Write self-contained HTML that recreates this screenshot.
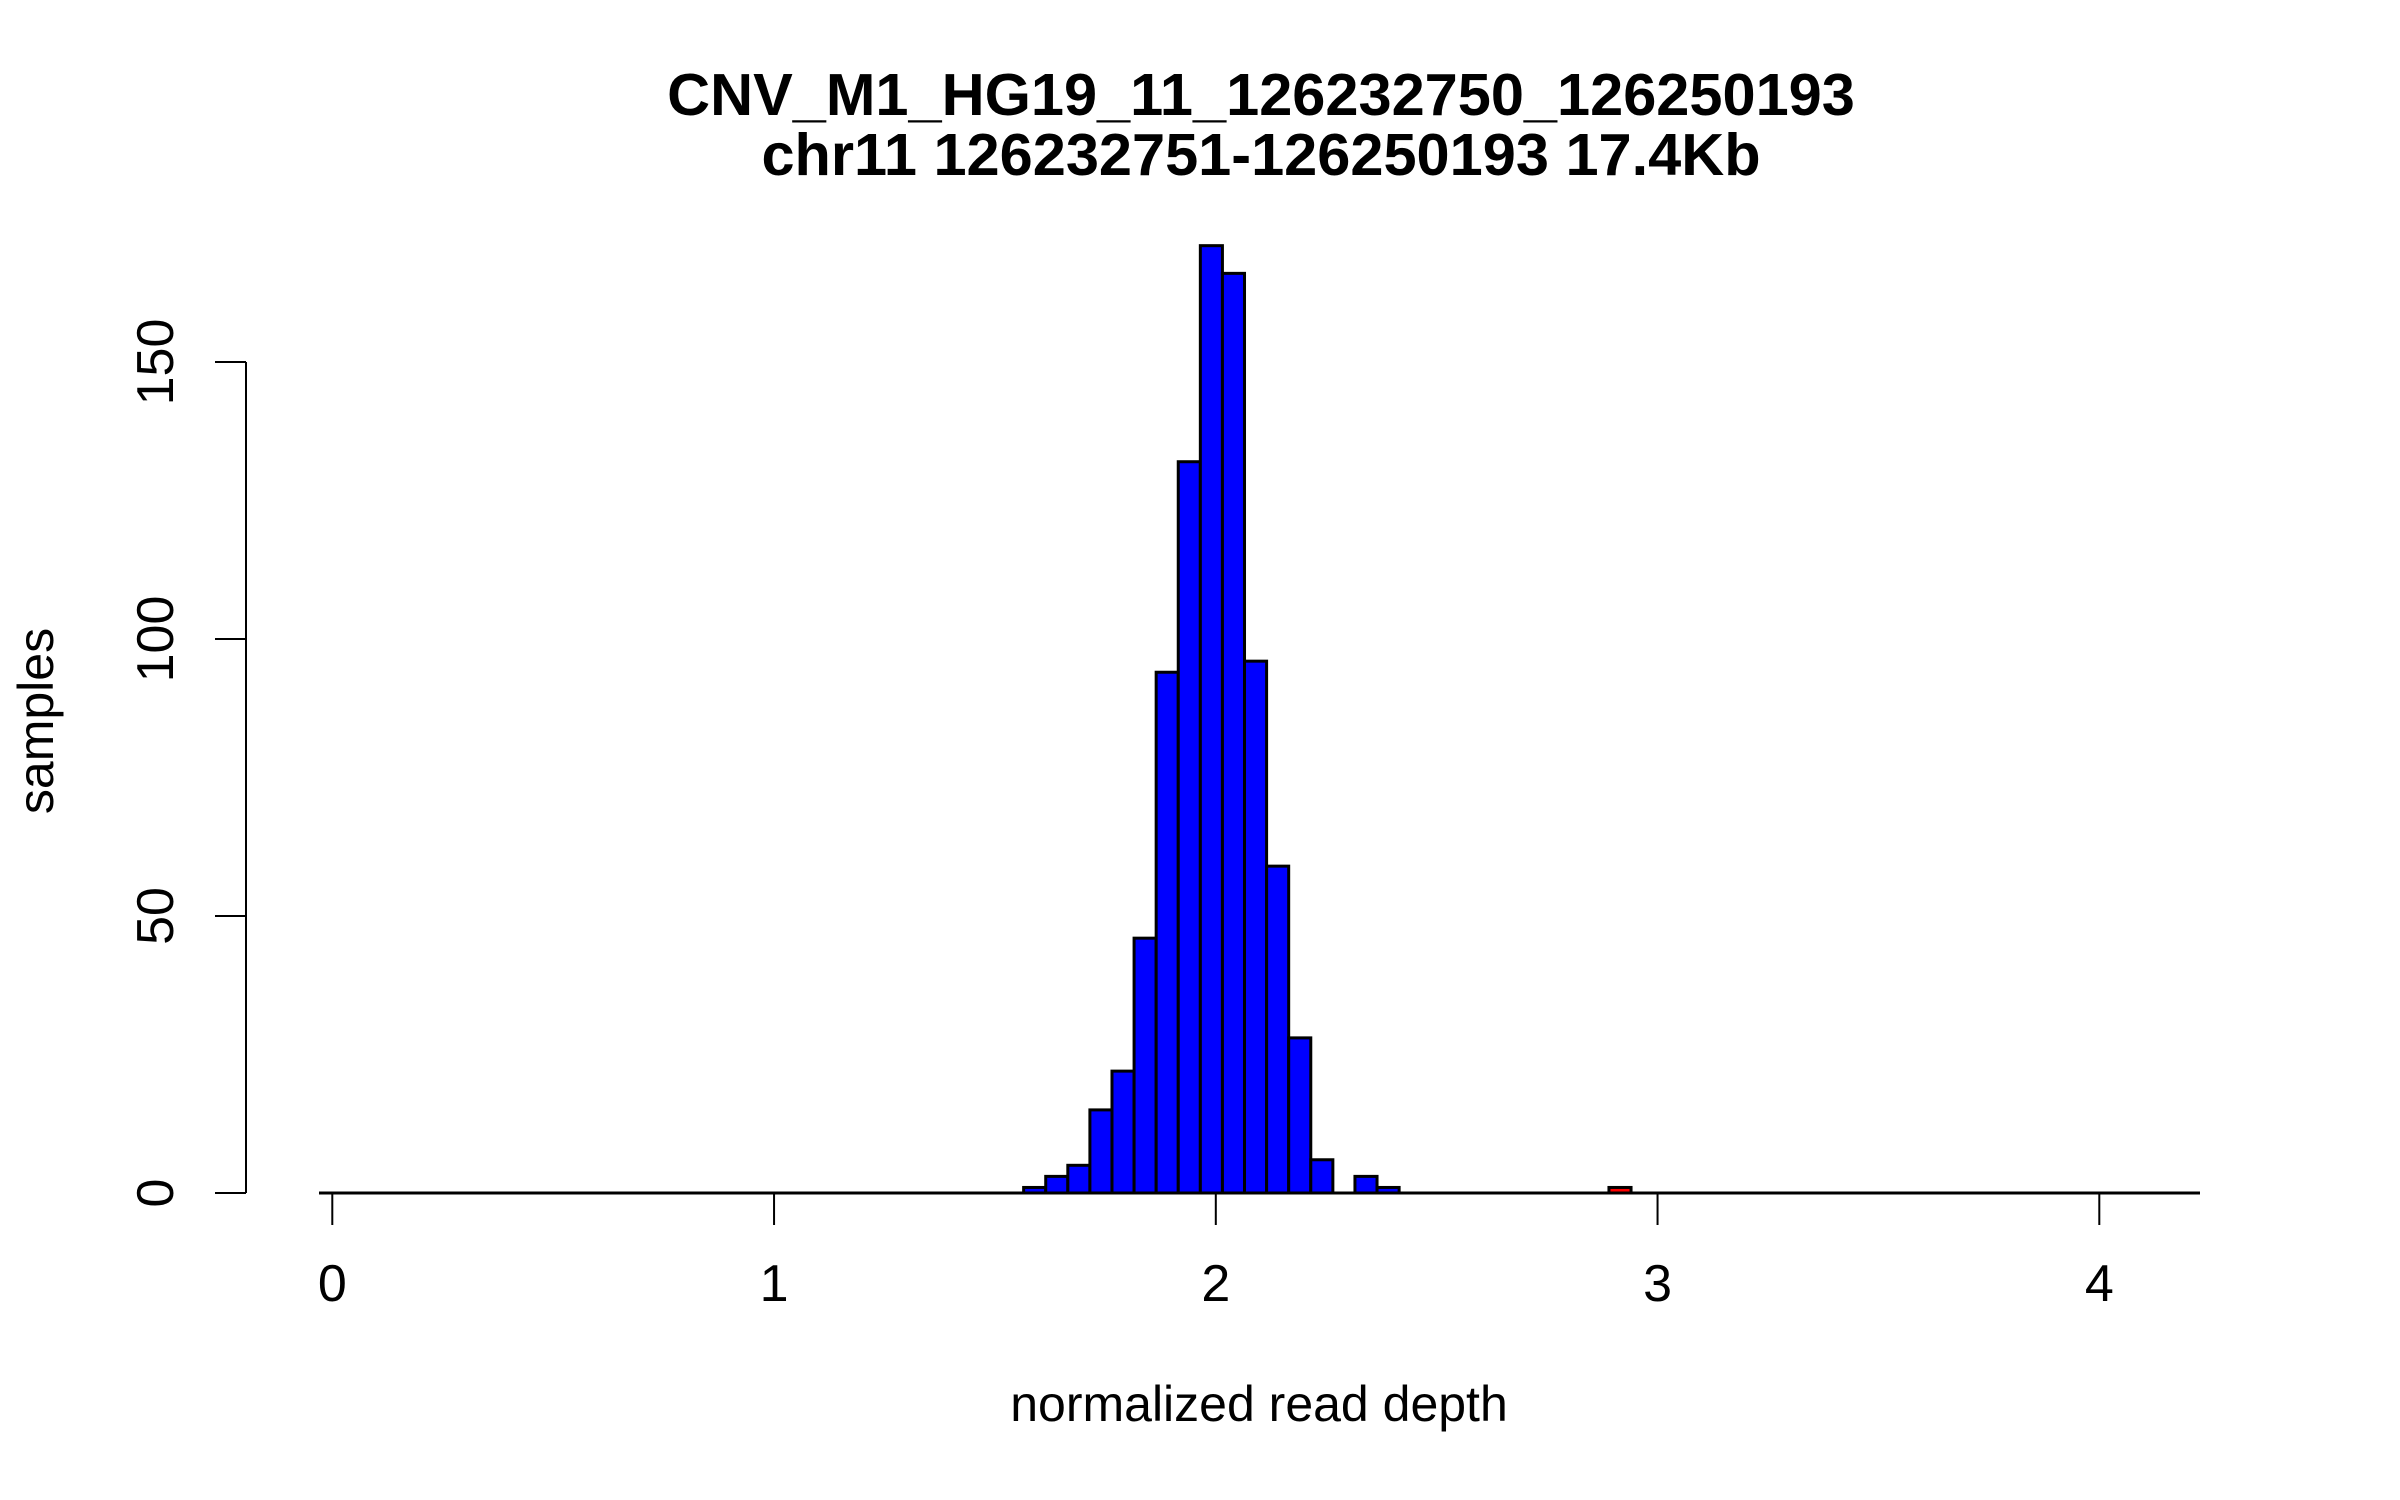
<!DOCTYPE html>
<html><head><meta charset="utf-8"><style>
html,body{margin:0;padding:0;background:#fff;}
svg{display:block;font-family:"Liberation Sans",Arial,sans-serif;}
</style></head><body>
<svg id="chart" width="2400" height="1500" viewBox="0 0 2400 1500" xmlns="http://www.w3.org/2000/svg">
<rect width="2400" height="1500" fill="#fff"/>
<text x="1261" y="115" text-anchor="middle" font-weight="bold" font-size="59.5">CNV_M1_HG19_11_126232750_126250193</text>
<text x="1261" y="175" text-anchor="middle" font-weight="bold" font-size="59.5">chr11 126232751-126250193 17.4Kb</text>
<text x="1259" y="1421" text-anchor="middle" font-size="50">normalized read depth</text>
<text x="0" y="0" transform="translate(53,721) rotate(-90)" text-anchor="middle" font-size="50">samples</text>
<g id="bars"></g>
<g id="axes"></g>
</svg>
<script>
const binStarts = [1.565,1.615,1.665,1.715,1.765,1.815,1.865,1.915,1.965,2.015,2.065,2.115,2.165,2.215,2.265,2.315,2.365,2.89];
const counts = [1,3,5,15,22,46,94,132,171,166,96,59,28,6,0,3,1,1];
const barColors = ['blue','blue','blue','blue','blue','blue','blue','blue','blue','blue','blue','blue','blue','blue','blue','blue','blue','red'];
const binWidth = 0.05;
const xTicks = [0,1,2,3,4];
const yTicks = [0,50,100,150];

const NS = 'http://www.w3.org/2000/svg';
function xs(v){ return 332.3 + v * 441.75; }
function ys(v){ return 1193 - v * (831 / 150); }
function mk(tag, attrs, parent){
  const e = document.createElementNS(NS, tag);
  for (const k in attrs) e.setAttribute(k, attrs[k]);
  parent.appendChild(e);
  return e;
}
const barsG = document.getElementById('bars');
const axesG = document.getElementById('axes');
for (let i = 0; i < counts.length; i++) {
  if (counts[i] <= 0) continue;
  const x0 = xs(binStarts[i]), x1 = xs(binStarts[i] + binWidth);
  const r = mk('rect', {x: x0, y: ys(counts[i]), width: x1 - x0, height: ys(0) - ys(counts[i]),
    fill: barColors[i], stroke: '#000', 'stroke-width': 3}, barsG);
  
  
}
const base = mk('line', {x1: 319, x2: 2200, y1: ys(0), y2: ys(0), stroke: '#000', 'stroke-width': 3}, axesG);


xTicks.forEach(t => {
  const l = mk('line', {x1: xs(t), x2: xs(t), y1: 1194, y2: 1225, stroke: '#000', 'stroke-width': 2}, axesG);
  
  
  const tx = mk('text', {x: xs(t), y: 1301, 'text-anchor': 'middle', 'font-size': 52}, axesG);
  tx.textContent = String(t);
  
  
});
const ya = mk('line', {x1: 246, x2: 246, y1: ys(150), y2: ys(0), stroke: '#000', 'stroke-width': 2}, axesG);


yTicks.forEach(t => {
  const l = mk('line', {x1: 215, x2: 246, y1: ys(t), y2: ys(t), stroke: '#000', 'stroke-width': 2}, axesG);
  
  
  const tx = mk('text', {x: 0, y: 0, transform: 'translate(173,' + ys(t) + ') rotate(-90)', 'text-anchor': 'middle', 'font-size': 52}, axesG);
  tx.textContent = String(t);
  
  
});
</script>
</body></html>
